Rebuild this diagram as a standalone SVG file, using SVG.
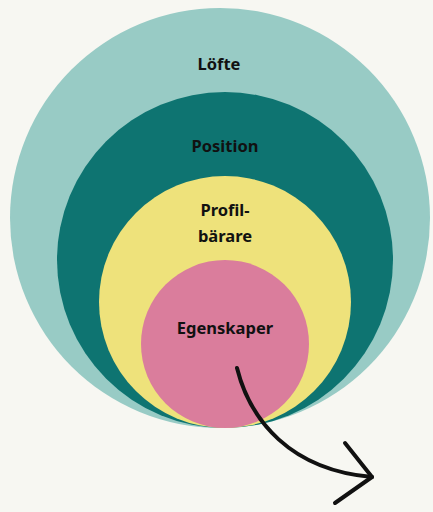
<svg xmlns="http://www.w3.org/2000/svg" width="433" height="512" viewBox="0 0 433 512">
<style>
.lbl{font-family:"Noto Sans","Open Sans","DejaVu Sans",sans-serif;font-weight:700;font-size:16.5px;fill:#111;text-anchor:middle}
</style>
<rect width="433" height="512" fill="#f7f7f2"/>
<g id="lofte"><circle cx="220" cy="218" r="210" fill="#98cbc5"/><text class="lbl" x="219" y="70">Löfte</text></g>
<g id="position"><circle cx="225" cy="260" r="168" fill="#0e7471"/><text class="lbl" x="225" y="152">Position</text></g>
<g id="profilbarare"><circle cx="225" cy="302" r="126" fill="#eee27b"/><text class="lbl" x="225" y="216">Profil-</text><text class="lbl" x="225" y="242">bärare</text></g>
<g id="egenskaper"><circle cx="225" cy="344" r="84" fill="#da7d9c"/><text class="lbl" x="225" y="334">Egenskaper</text></g>
<g id="connectors" fill="none" stroke="#111" stroke-width="4" stroke-linecap="round" stroke-linejoin="round">
<path d="M237,368 C250,420 290,470 372,477"/>
<path d="M345,443 L372,477 L335,503"/>
</g>
</svg>
